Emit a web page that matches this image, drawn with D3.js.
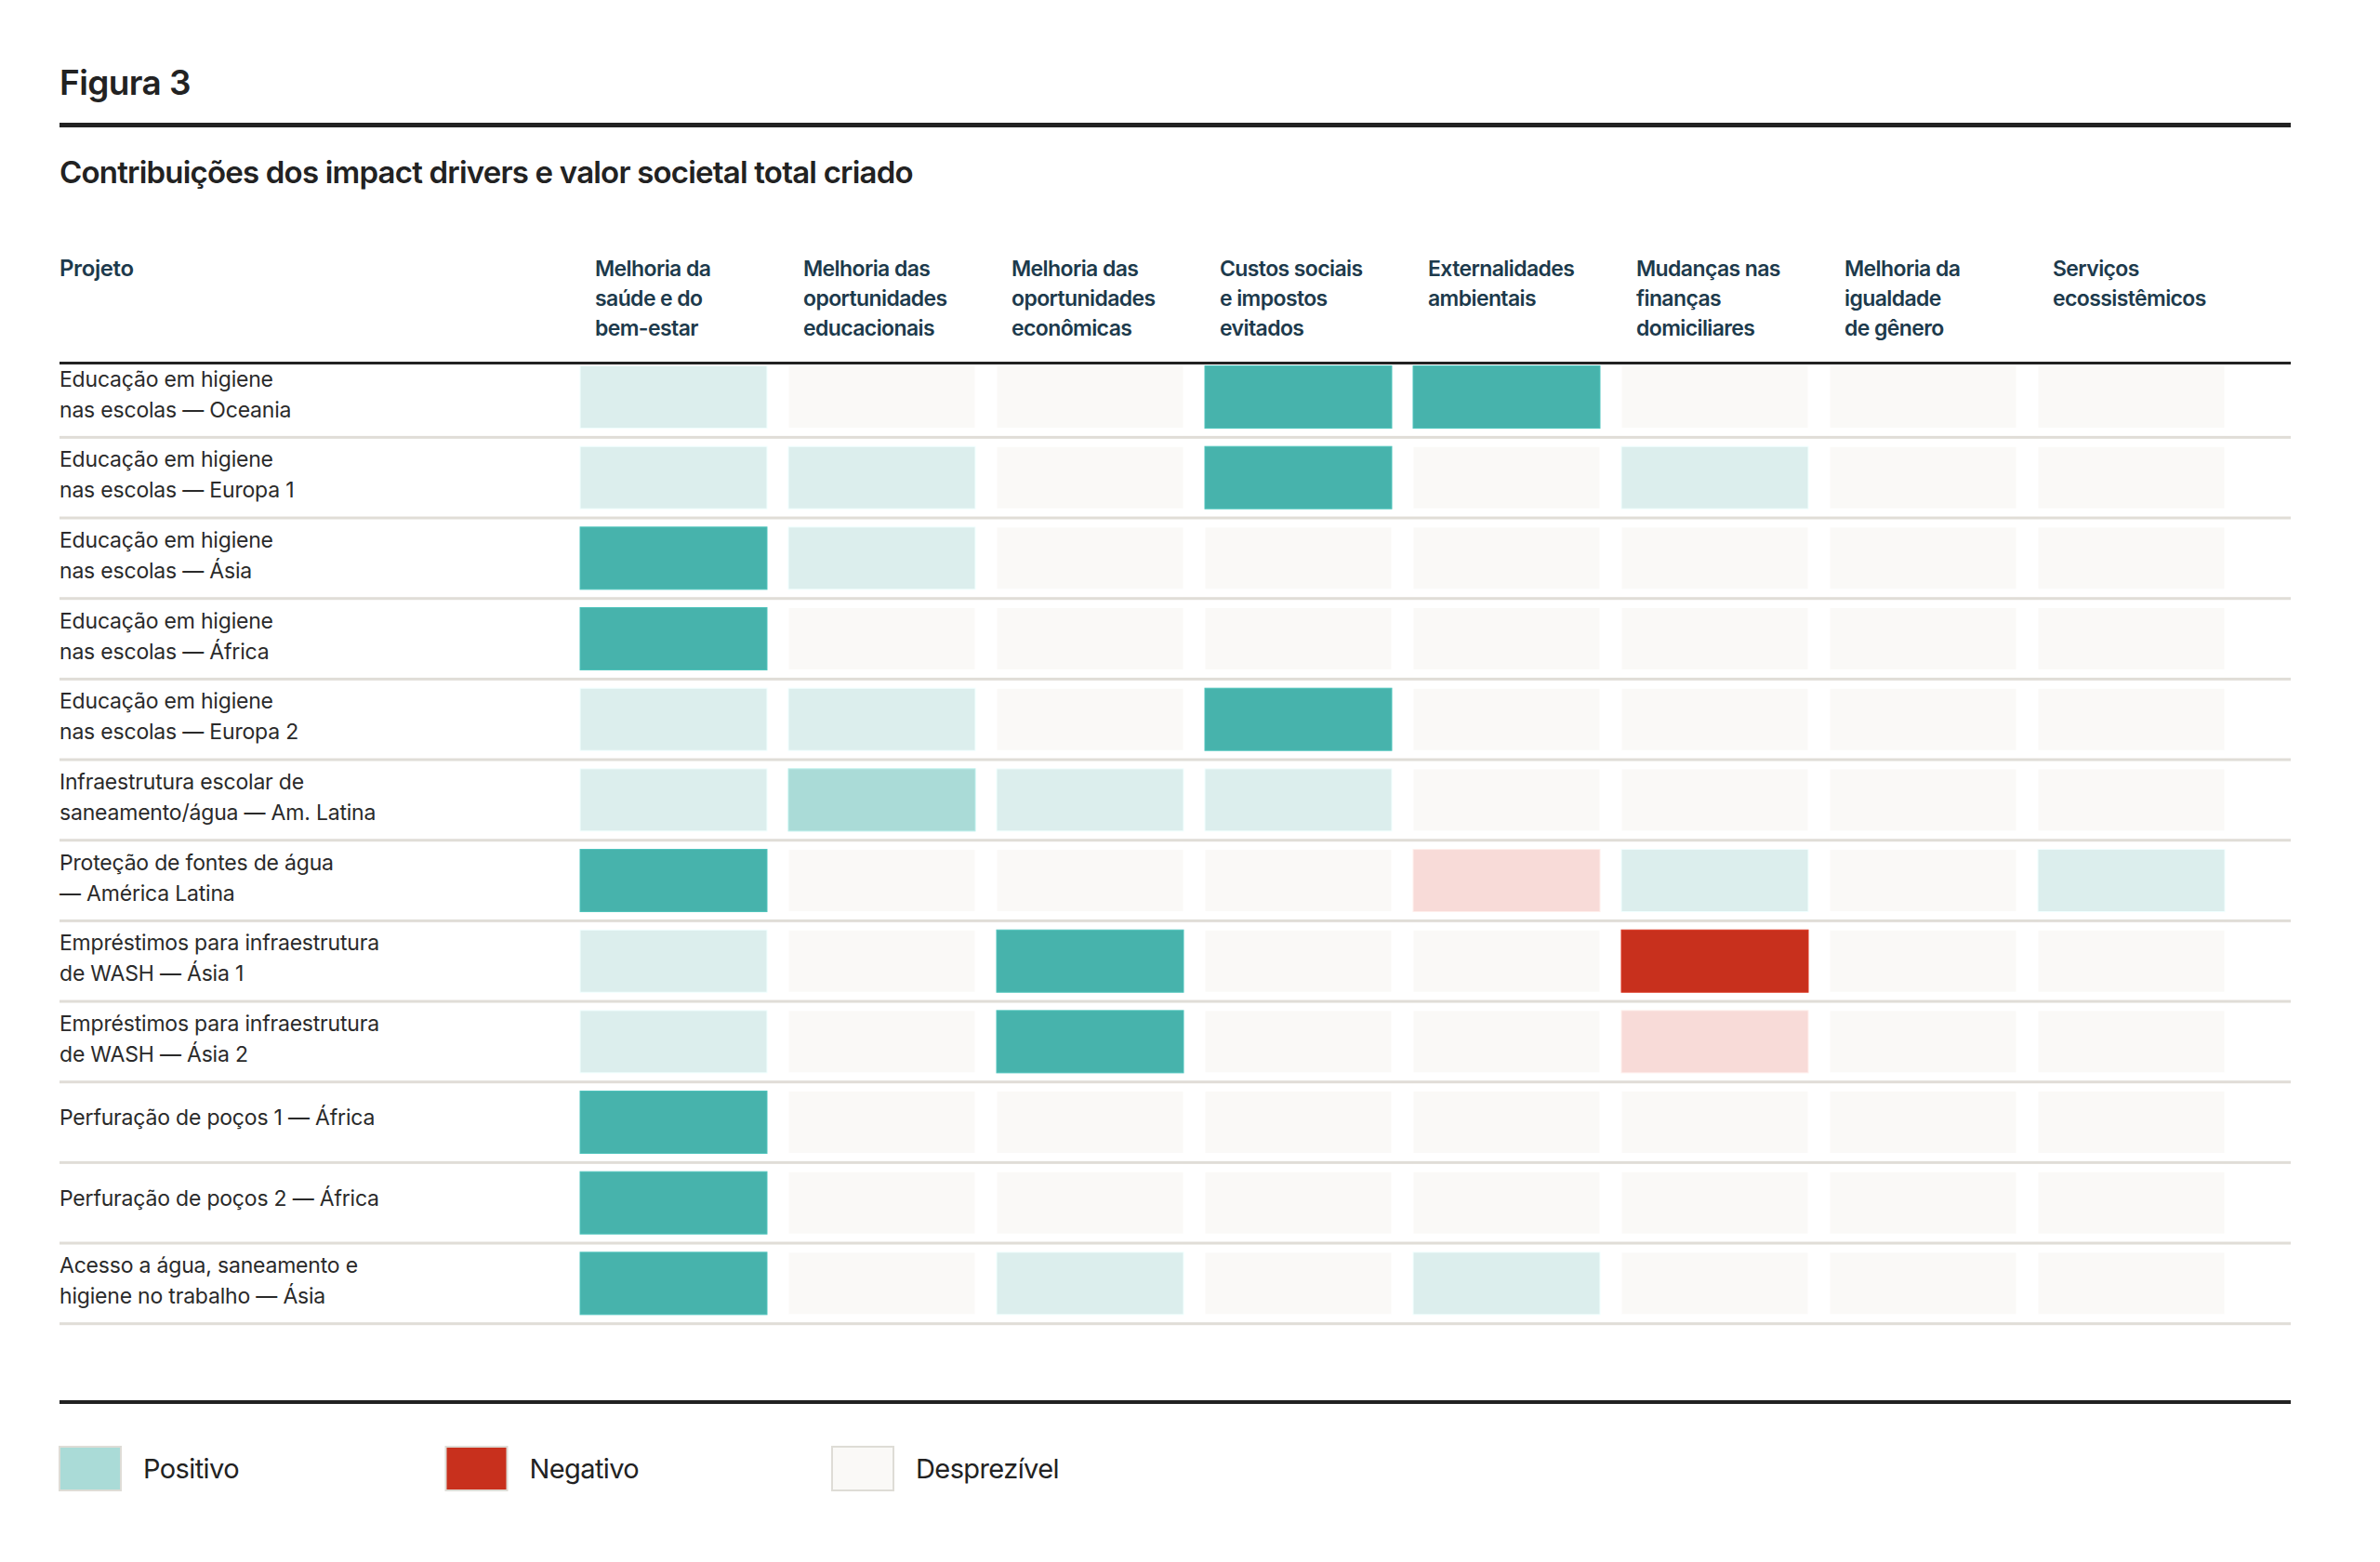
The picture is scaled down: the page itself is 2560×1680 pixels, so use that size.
<!DOCTYPE html>
<html lang="pt">
<head>
<meta charset="utf-8">
<title>Figura 3</title>
<script src="https://cdn.jsdelivr.net/npm/d3@7"></script>
<style>
    html, body { margin: 0; padding: 0; background: #ffffff; }
    svg { display: block; font-family: Inter, "Noto Sans", sans-serif; }
</style>
</head>
<body>
<div id="chart"></div>
<script>
// Categorías de impacto (columnas), con los saltos de línea del original
const drivers = [
    ["Melhoria da", "saúde e do", "bem-estar"],
    ["Melhoria das", "oportunidades", "educacionais"],
    ["Melhoria das", "oportunidades", "econômicas"],
    ["Custos sociais", "e impostos", "evitados"],
    ["Externalidades", "ambientais"],
    ["Mudanças nas", "finanças", "domiciliares"],
    ["Melhoria da", "igualdade", "de gênero"],
    ["Serviços", "ecossistêmicos"]
];

// Proyectos (filas)
const projects = [
    ["Educação em higiene", "nas escolas — Oceania"],
    ["Educação em higiene", "nas escolas — Europa 1"],
    ["Educação em higiene", "nas escolas — Ásia"],
    ["Educação em higiene", "nas escolas — África"],
    ["Educação em higiene", "nas escolas — Europa 2"],
    ["Infraestrutura escolar de", "saneamento/água — Am. Latina"],
    ["Proteção de fontes de água", "— América Latina"],
    ["Empréstimos para infraestrutura", "de WASH — Ásia 1"],
    ["Empréstimos para infraestrutura", "de WASH — Ásia 2"],
    ["Perfuração de poços 1 — África"],
    ["Perfuração de poços 2 — África"],
    ["Acesso a água, saneamento e", "higiene no trabalho — Ásia"]
];

// Nivel de contribución: 3 fuerte, 2 medio, 1 leve positivo, 0 despreciable, -1 leve negativo, -2 negativo
const impactLevels = [
    [1, 0, 0, 3, 3, 0, 0, 0],
    [1, 1, 0, 3, 0, 1, 0, 0],
    [3, 1, 0, 0, 0, 0, 0, 0],
    [3, 0, 0, 0, 0, 0, 0, 0],
    [1, 1, 0, 3, 0, 0, 0, 0],
    [1, 2, 1, 1, 0, 0, 0, 0],
    [3, 0, 0, 0, -1, 1, 0, 1],
    [1, 0, 3, 0, 0, -2, 0, 0],
    [1, 0, 3, 0, 0, -1, 0, 0],
    [3, 0, 0, 0, 0, 0, 0, 0],
    [3, 0, 0, 0, 0, 0, 0, 0],
    [3, 0, 1, 0, 1, 0, 0, 0]
];

// Leyenda
const legendLabels = ["Positivo", "Negativo", "Desprezível"];
const legendLevels = [2, -2, 0];

////////////////////////////////////////////////////////////////////////////////////////////////////
const width = 2560, height = 1680;
const left = 64, right = 2464;
const inkColor = "#222222";
const headColor = "#1d3a4c";

const color = d3.scaleOrdinal()
    .domain([-2, -1, 0, 1, 2, 3])
    .range(["#c8301d", "#f8dbd8", "#faf9f7", "#dceeed", "#aadbd7", "#47b3ac"]);

const svg = d3.select("#chart").append("svg")
    .attr("width", width)
    .attr("height", height);

// Escalas de la cuadrícula
const x = d3.scaleBand()
    .domain(d3.range(drivers.length))
    .range([624, 2393])
    .paddingInner(0.1027)
    .paddingOuter(0);

const y = d3.scaleBand()
    .domain(d3.range(projects.length))
    .range([383.7, 1423.7])
    .paddingInner(0.227)
    .paddingOuter(0.1135);

const rowStep = y.step();
const rowTop = i => y(i) - y.paddingInner() * rowStep / 2;

////////////////////////////////////////////////////////////////////////////////////////////////////
// Título y subtítulo
svg.append("text")
    .attr("x", left).attr("y", 102)
    .attr("font-size", 37).attr("font-weight", 600)
    .attr("letter-spacing", -0.6)
    .attr("fill", inkColor)
    .text("Figura 3");

svg.append("rect")
    .attr("x", left).attr("y", 132)
    .attr("width", right - left).attr("height", 5)
    .attr("fill", inkColor);

svg.append("text")
    .attr("x", left).attr("y", 197)
    .attr("font-size", 33).attr("font-weight", 600)
    .attr("letter-spacing", -0.8)
    .attr("fill", inkColor)
    .text("Contribuições dos impact drivers e valor societal total criado");

////////////////////////////////////////////////////////////////////////////////////////////////////
// Encabezados de columnas
svg.append("text")
    .attr("x", left).attr("y", 297)
    .attr("font-size", 24).attr("font-weight", 600)
    .attr("letter-spacing", -0.4)
    .attr("fill", headColor)
    .text("Projeto");

const header = svg.append("g").selectAll("text")
    .data(drivers)
    .join("text")
    .attr("x", (d, i) => x(i) + 16)
    .attr("y", 297)
    .attr("font-size", 23).attr("font-weight", 600)
    .attr("letter-spacing", -0.6)
    .attr("fill", headColor);

header.selectAll("tspan")
    .data(d => d)
    .join("tspan")
    .attr("x", function () { return this.parentNode.getAttribute("x"); })
    .attr("dy", (d, i) => i === 0 ? 0 : 32)
    .text(d => d);

// Separadores de filas
svg.append("g").selectAll("rect")
    .data(projects)
    .join("rect")
    .attr("x", left)
    .attr("y", (d, i) => rowTop(i) + rowStep - 1.5)
    .attr("width", right - left)
    .attr("height", 3)
    .attr("fill", "#e0ddd7");

////////////////////////////////////////////////////////////////////////////////////////////////////
// Celdas
const cells = [];
impactLevels.forEach((row, r) => row.forEach((v, c) => cells.push({ r, c, v })));

svg.append("g").selectAll("rect")
    .data(cells)
    .join("rect")
    .attr("x", d => x(d.c))
    .attr("y", d => y(d.r))
    .attr("width", x.bandwidth())
    .attr("height", y.bandwidth())
    .attr("fill", d => color(d.v))
    .attr("stroke", d => d3.color(color(d.v)).brighter(0.25))
    .attr("stroke-width", 1);

// Línea bajo los encabezados (encima de las celdas)
svg.append("rect")
    .attr("x", left).attr("y", 389)
    .attr("width", right - left).attr("height", 3)
    .attr("fill", inkColor);

// Etiquetas de proyectos
const labels = svg.append("g").selectAll("text")
    .data(projects)
    .join("text")
    .attr("x", left)
    .attr("y", (d, i) => {
        const center = rowTop(i) + rowStep / 2;
        return d.length > 1 ? center - 11.5 : center + 3;
    })
    .attr("font-size", 23)
    .attr("letter-spacing", -0.2)
    .attr("fill", "#2a2a2a");

labels.selectAll("tspan")
    .data(d => d)
    .join("tspan")
    .attr("x", left)
    .attr("dy", (d, i) => i === 0 ? 0 : 33)
    .text(d => d);

////////////////////////////////////////////////////////////////////////////////////////////////////
// Leyenda
svg.append("rect")
    .attr("x", left).attr("y", 1506)
    .attr("width", right - left).attr("height", 4)
    .attr("fill", inkColor);

const legendX = d3.scalePoint()
    .domain(legendLabels)
    .range([left, left + 831]);

const legend = svg.append("g").selectAll("g")
    .data(legendLabels)
    .join("g")
    .attr("transform", d => `translate(${legendX(d)},1556)`);

legend.append("rect")
    .attr("width", 66).attr("height", 47)
    .attr("fill", (d, i) => color(legendLevels[i]))
    .attr("stroke", "#dedcd6")
    .attr("stroke-width", 2);

legend.append("text")
    .attr("x", 90).attr("y", 34)
    .attr("font-size", 29)
    .attr("letter-spacing", -0.6)
    .attr("fill", inkColor)
    .text(d => d);
</script>
</body>
</html>
